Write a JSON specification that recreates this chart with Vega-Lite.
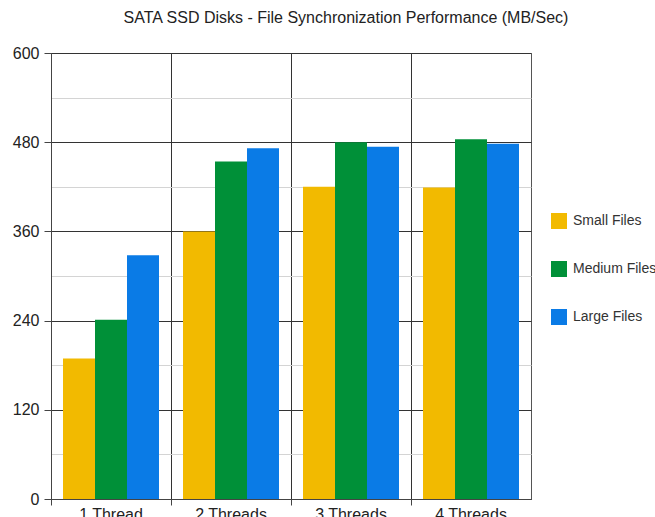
{
  "$schema": "https://vega.github.io/schema/vega-lite/v6.json",
  "width": 480,
  "height": 446,
  "autosize": {"type": "none"},
  "padding": {"left": 51, "top": 53, "right": 124, "bottom": 18},
  "background": "white",
  "config": {
    "view": {"stroke": "#555", "strokeWidth": 1},
    "font": "Liberation Sans"
  },
  "title": {
    "text": "SATA SSD Disks - File Synchronization Performance (MB/Sec)",
    "font": "Liberation Sans",
    "fontSize": 16,
    "fontWeight": "normal",
    "color": "#222",
    "anchor": "middle",
    "dx": 55,
    "offset": 19
  },
  "data": {
    "values": [
      {"threads": "1 Thread", "type": "Small Files", "value": 189},
      {"threads": "1 Thread", "type": "Medium Files", "value": 241},
      {"threads": "1 Thread", "type": "Large Files", "value": 328},
      {"threads": "2 Threads", "type": "Small Files", "value": 360},
      {"threads": "2 Threads", "type": "Medium Files", "value": 454},
      {"threads": "2 Threads", "type": "Large Files", "value": 472},
      {"threads": "3 Threads", "type": "Small Files", "value": 420},
      {"threads": "3 Threads", "type": "Medium Files", "value": 480},
      {"threads": "3 Threads", "type": "Large Files", "value": 474},
      {"threads": "4 Threads", "type": "Small Files", "value": 419},
      {"threads": "4 Threads", "type": "Medium Files", "value": 484},
      {"threads": "4 Threads", "type": "Large Files", "value": 478}
    ]
  },
  "mark": {"type": "bar"},
  "encoding": {
    "x": {
      "field": "threads",
      "type": "nominal",
      "sort": ["1 Thread", "2 Threads", "3 Threads", "4 Threads"],
      "scale": {"paddingInner": 0, "paddingOuter": 0},
      "axis": {
        "title": null,
        "bandPosition": 0,
        "labelOffset": 0,
        "labelAngle": 0,
        "labelFontSize": 16,
        "labelColor": "#222",
        "labelPadding": 1,
        "labelBaseline": "top",
        "tickSize": 6,
        "tickColor": "#444",
        "grid": true,
        "gridColor": "#333",
        "gridWidth": 1,
        "domainColor": "#444"
      }
    },
    "xOffset": {
      "field": "type",
      "type": "nominal",
      "sort": ["Small Files", "Medium Files", "Large Files"],
      "scale": {"paddingInner": 0, "paddingOuter": 0.375}
    },
    "y": {
      "field": "value",
      "type": "quantitative",
      "scale": {"domain": [0, 600], "nice": false},
      "axis": {
        "title": null,
        "values": [0, 60, 120, 180, 240, 300, 360, 420, 480, 540, 600],
        "labelExpr": "datum.value % 120 === 0 ? datum.label : ''",
        "labelFontSize": 16,
        "labelColor": "#222",
        "labelPadding": 5,
        "tickSize": 7,
        "tickColor": {"condition": {"test": "datum.value % 120 === 0", "value": "#444"}, "value": "transparent"},
        "gridColor": {"condition": {"test": "datum.value % 120 === 0", "value": "#333"}, "value": "#d4d4d4"},
        "gridWidth": 1,
        "domainColor": "#444"
      }
    },
    "color": {
      "field": "type",
      "type": "nominal",
      "sort": ["Small Files", "Medium Files", "Large Files"],
      "scale": {
        "domain": ["Small Files", "Medium Files", "Large Files"],
        "range": ["#F2BA00", "#009038", "#0A7BE6"]
      },
      "legend": {
        "title": null,
        "orient": "none",
        "legendX": 500,
        "legendY": 160,
        "symbolType": "square",
        "symbolSize": 256,
        "symbolStrokeWidth": 0,
        "symbolOpacity": 1,
        "labelFontSize": 14,
        "labelColor": "#333",
        "labelOffset": 6,
        "rowPadding": 32,
        "labelLimit": 200
      }
    }
  }
}
